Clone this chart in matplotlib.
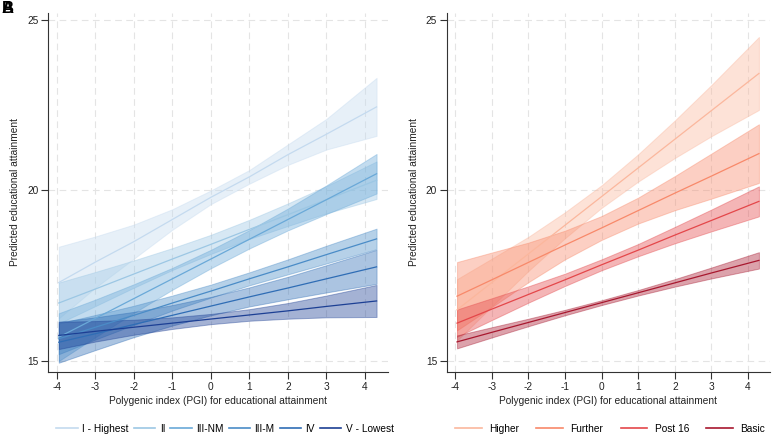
import matplotlib.pyplot as plt
from matplotlib.lines import Line2D

plt.rcParams['font.family'] = ['Liberation Sans', 'DejaVu Sans']
plt.rcParams['axes.unicode_minus'] = False

# PGI values the margins were read at
pgi = [-3.95, -3, -2, -1, 0, 1, 2, 3, 4.3]

# Panel A - parental social class
class_labels = ["I - Highest", "II", "III-NM", "III-M", "IV", "V - Lowest"]
class_fit = [
    [17.30, 17.90, 18.50, 19.15, 19.80, 20.40, 21.05, 21.65, 22.45],
    [16.70, 17.11, 17.55, 17.99, 18.42, 18.86, 19.29, 19.73, 20.30],
    [15.70, 16.25, 16.83, 17.41, 17.99, 18.57, 19.15, 19.73, 20.49],
    [15.65, 15.99, 16.34, 16.70, 17.05, 17.41, 17.76, 18.12, 18.58],
    [15.55, 15.80, 16.07, 16.34, 16.61, 16.88, 17.14, 17.41, 17.76],
    [15.75, 15.87, 15.99, 16.11, 16.23, 16.35, 16.47, 16.60, 16.76],
]
class_lo = [
    [16.25, 17.15, 18.00, 18.85, 19.60, 20.20, 20.75, 21.20, 21.60],
    [16.10, 16.61, 17.15, 17.67, 18.14, 18.58, 18.96, 19.33, 19.75],
    [15.00, 15.70, 16.41, 17.09, 17.72, 18.30, 18.83, 19.31, 19.91],
    [15.20, 15.63, 16.06, 16.48, 16.86, 17.22, 17.54, 17.86, 18.28],
    [14.95, 15.32, 15.70, 16.04, 16.34, 16.60, 16.81, 17.01, 17.26],
    [15.35, 15.57, 15.77, 15.94, 16.08, 16.18, 16.24, 16.28, 16.29],
]
class_hi = [
    [18.35, 18.65, 19.00, 19.45, 20.00, 20.60, 21.35, 22.10, 23.30],
    [17.30, 17.61, 17.95, 18.31, 18.70, 19.14, 19.62, 20.13, 20.85],
    [16.40, 16.80, 17.25, 17.73, 18.26, 18.84, 19.47, 20.15, 21.07],
    [16.10, 16.35, 16.62, 16.92, 17.24, 17.60, 17.98, 18.38, 18.88],
    [16.15, 16.28, 16.44, 16.64, 16.88, 17.16, 17.47, 17.81, 18.26],
    [16.15, 16.17, 16.21, 16.28, 16.38, 16.52, 16.70, 16.92, 17.23],
]

# Panel B - parental education
educ_labels = ["Higher", "Further", "Post 16", "Basic"]
educ_fit = [
    [16.50, 17.30, 18.14, 18.98, 19.82, 20.66, 21.50, 22.34, 23.43],
    [16.90, 17.38, 17.89, 18.40, 18.90, 19.41, 19.92, 20.42, 21.08],
    [16.11, 16.52, 16.95, 17.38, 17.82, 18.25, 18.69, 19.12, 19.68],
    [15.56, 15.84, 16.13, 16.42, 16.71, 17.00, 17.29, 17.58, 17.95],
]
educ_lo = [
    [15.60, 16.60, 17.64, 18.60, 19.49, 20.26, 20.95, 21.59, 22.36],
    [15.90, 16.58, 17.31, 17.98, 18.55, 19.03, 19.42, 19.76, 20.22],
    [15.71, 16.20, 16.71, 17.20, 17.66, 18.07, 18.45, 18.80, 19.24],
    [15.37, 15.69, 16.02, 16.34, 16.64, 16.92, 17.18, 17.42, 17.71],
]
educ_hi = [
    [17.40, 18.00, 18.64, 19.36, 20.15, 21.06, 22.05, 23.09, 24.50],
    [17.90, 18.18, 18.47, 18.82, 19.25, 19.79, 20.42, 21.08, 21.94],
    [16.51, 16.84, 17.19, 17.56, 17.98, 18.43, 18.93, 19.44, 20.12],
    [15.75, 15.99, 16.24, 16.50, 16.78, 17.08, 17.40, 17.74, 18.19],
]

class_colors = ['#c4daef', '#9cc7e4', '#6aa9d8', '#4a8cc7', '#2f6db5', '#1c3f94']
educ_colors = ['#fbb79d', '#f8896a', '#e4474a', '#a8182f']

xticks = [-4, -3, -2, -1, 0, 1, 2, 3, 4]
yticks = [15, 20, 25]


def draw_panel(ax, labels, fits, los, his, colors):
    for lo, hi, c in zip(los, his, colors):
        ax.fill_between(pgi, lo, hi, facecolor=c, alpha=0.4, edgecolor=c, lw=0.7, zorder=2)
    handles = []
    for fit, c, lab in zip(fits, colors, labels):
        ax.plot(pgi, fit, color=c, lw=0.9, zorder=3)
        handles.append(Line2D([], [], color=c, lw=1.2, label=lab))

    ax.set_xlim(-4.23, 4.6)
    ax.set_ylim(14.68, 25.2)
    ax.set_xticks(xticks)
    ax.set_yticks(yticks)
    ax.grid(True, color='#e4e4e4', lw=0.8, ls=(0, (6, 4)), zorder=0)
    ax.set_axisbelow(True)
    for s in ['top', 'right']:
        ax.spines[s].set_visible(False)
    for s in ['left', 'bottom']:
        ax.spines[s].set_color('#333333')
        ax.spines[s].set_linewidth(0.8)
    ax.tick_params(direction='out', length=5, width=0.8, color='#333333',
                   labelsize=7.3, labelcolor='#222222', pad=2)
    ax.set_xlabel("Polygenic index (PGI) for educational attainment", fontsize=7.3, color='#222222', labelpad=3)
    ax.set_ylabel("Predicted educational attainment", fontsize=7.3, color='#222222', labelpad=5)
    return handles


fig = plt.figure(figsize=(7.73, 4.36), dpi=100)
ax1 = fig.add_axes([0.0621, 0.147, 0.440, 0.823])
ax2 = fig.add_axes([0.578, 0.147, 0.418, 0.823])

h1 = draw_panel(ax1, class_labels, class_fit, class_lo, class_hi, class_colors)
h2 = draw_panel(ax2, educ_labels, educ_fit, educ_lo, educ_hi, educ_colors)

fig.legend(handles=h1, loc='center left', bbox_to_anchor=(0.073, 0.016), ncol=6, frameon=False,
           fontsize=7.3, handlelength=2.1, handletextpad=0.45, columnspacing=0.5, borderpad=0,
           borderaxespad=0)
fig.legend(handles=h2, loc='center left', bbox_to_anchor=(0.589, 0.016), ncol=4, frameon=False,
           fontsize=7.3, handlelength=2.6, handletextpad=0.75, columnspacing=1.7, borderpad=0,
           borderaxespad=0)

# panel letters sit on top of each other in the original
fig.text(0.002, 0.997, "A", fontsize=12, fontweight='bold', va='top', ha='left')
fig.text(0.002, 0.997, "B", fontsize=12, fontweight='bold', va='top', ha='left')

fig.savefig('out.png', dpi=100)
